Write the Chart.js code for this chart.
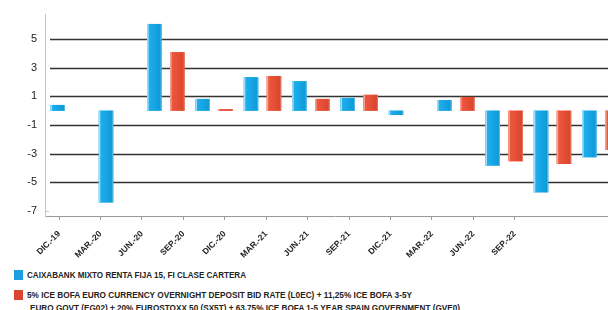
<!DOCTYPE html>
<html>
<head>
<meta charset="utf-8">
<script src="https://cdn.jsdelivr.net/npm/chart.js@4.4.1/dist/chart.umd.min.js"></script>
<style>
  html, body { margin: 0; padding: 0; background: #fff; width: 608px; height: 310px; overflow: hidden; position: relative; }
  #wrap { position: absolute; left: 0; top: 0; width: 625px; height: 262px; }
  .sq { position: absolute; width: 9px; height: 10px; }
  .lt { position: absolute; white-space: nowrap; font-family: "Liberation Sans", Arial, sans-serif; font-weight: bold; font-size: 9px; color: #222; line-height: 10px; transform-origin: 0 50%; }
</style>
</head>
<body>
<div id="wrap"><canvas id="c" width="625" height="262" style="width:625px;height:262px"></canvas></div>
<div class="sq" style="left:14px;top:270px;background:#1b9fe0"></div>
<div class="lt" id="l1" style="left:27px;top:270px" data-w="219"></div>
<div class="sq" style="left:14px;top:290px;background:#d9452f"></div>
<div class="lt" id="l2a" style="left:27px;top:290px" data-w="385"></div>
<div class="lt" id="l2b" style="left:30px;top:303px" data-w="430"></div>
<script>
// ---- data ----
const categories = ['DIC.-19','MAR.-20','JUN.-20','SEP.-20','DIC.-20','MAR.-21','JUN.-21','SEP.-21','DIC.-21','MAR.-22','JUN.-22','SEP.-22'];
const fundValues = [0.4, -6.4, 6.05, 0.82, 2.33, 2.05, 0.89, -0.3, 0.73, -3.83, -5.7, -3.25];
const benchValues = [null, null, 4.08, 0.1, 2.42, 0.82, 1.1, null, 0.96, -3.53, -3.72, -2.74];
const yTickValues = [5, 3, 1, -1, -3, -5, -7];
const fundName = 'CAIXABANK MIXTO RENTA FIJA 15, FI CLASE CARTERA';
const benchLine1 = '5% ICE BOFA EURO CURRENCY OVERNIGHT DEPOSIT BID RATE (L0EC) + 11,25% ICE BOFA 3-5Y';
const benchLine2 = 'EURO GOVT (EG02) + 20% EUROSTOXX 50 (SX5T) + 63,75% ICE BOFA 1-5 YEAR SPAIN GOVERNMENT (GVE0)';

// ---- legend (HTML text) ----
document.getElementById('l1').textContent = fundName;
document.getElementById('l2a').textContent = benchLine1;
document.getElementById('l2b').textContent = benchLine2;
document.querySelectorAll('.lt').forEach(el => {
  const target = parseFloat(el.dataset.w);
  const w = el.getBoundingClientRect().width;
  if (w > 0) el.style.transform = 'scaleX(' + (target / w) + ')';
});

const palettes = [
  { stripe: '#a6e0fa', a: '#22b2ef', b: '#0c98d6' },
  { stripe: '#f3a596', a: '#ef5a40', b: '#d9432c' }
];

const decor = {
  id: 'decor',
  beforeDatasetsDraw(chart) {
    const ctx = chart.ctx, y = chart.scales.y, area = chart.chartArea;
    ctx.save();
    ctx.strokeStyle = '#333';
    ctx.lineWidth = 1.5;
    yTickValues.forEach(v => {
      if (v === -7) return;
      const py = Math.round(y.getPixelForValue(v)) + 0.5;
      ctx.beginPath(); ctx.moveTo(area.left + 5, py); ctx.lineTo(area.right, py); ctx.stroke();
    });
    const p7 = Math.round(y.getPixelForValue(-7)) + 0.5;
    ctx.strokeStyle = '#c4c4c4'; ctx.lineWidth = 1;
    ctx.beginPath(); ctx.moveTo(area.left, p7); ctx.lineTo(area.left + 4, p7); ctx.stroke();
    ctx.restore();
  },
  afterDatasetsDraw(chart) {
    const ctx = chart.ctx, area = chart.chartArea;
    ctx.save();
    ctx.beginPath(); ctx.rect(area.left, area.top, area.right - area.left, area.bottom - area.top); ctx.clip();
    chart.data.datasets.forEach((ds, i) => {
      const meta = chart.getDatasetMeta(i), pal = palettes[i];
      meta.data.forEach((el, j) => {
        if (ds.data[j] === null) return;
        const p = el.getProps(['x', 'y', 'base', 'width'], true);
        const left = p.x - p.width / 2, top = Math.min(p.y, p.base), h = Math.max(Math.abs(p.base - p.y), 1);
        const g = ctx.createLinearGradient(left, 0, left + p.width, 0);
        g.addColorStop(0, pal.a); g.addColorStop(1, pal.b);
        ctx.fillStyle = g;
        ctx.fillRect(left, top, p.width, h);
        ctx.fillStyle = pal.stripe;
        ctx.fillRect(left, top, 1.5, h);
        ctx.globalAlpha = 0.5;
        ctx.fillRect(left + p.width - 1, top, 1, h);
        ctx.globalAlpha = 1;
      });
    });
    ctx.restore();
  }
};

new Chart(document.getElementById('c'), {
  type: 'bar',
  data: {
    labels: categories,
    datasets: [
      { label: fundName, data: fundValues, backgroundColor: '#1aa7e4', barPercentage: 0.63, categoryPercentage: 0.95 },
      { label: benchLine1 + ' ' + benchLine2, data: benchValues, backgroundColor: '#e4533a', barPercentage: 0.63, categoryPercentage: 0.95 }
    ]
  },
  options: {
    responsive: false,
    animation: false,
    devicePixelRatio: 1,
    layout: { padding: { top: 14, left: 0, right: 0, bottom: 0 } },
    plugins: { legend: { display: false }, tooltip: { enabled: false } },
    scales: {
      x: { display: false },
      xl: {
        type: 'linear', position: 'bottom', min: 0, max: 14, offset: false,
        afterBuildTicks(s) { s.ticks = categories.map((c, i) => ({ value: i + 0.34 })); },
        afterFit(s) { s.height = 46; },
        ticks: {
          autoSkip: false, maxRotation: 45, minRotation: 45, padding: 9,
          color: '#222', font: { family: 'Liberation Sans, Arial, sans-serif', size: 8.5, weight: 'bold' },
          callback: (v, i) => categories[i]
        },
        grid: { display: true, offset: false, drawOnChartArea: false, drawTicks: true, tickLength: 4, color: '#9a9a9a' },
        border: { display: true, color: '#9a9a9a', width: 1 }
      },
      y: {
        min: -7.35, max: 6.7,
        afterBuildTicks(s) { s.ticks = yTickValues.map(v => ({ value: v })); },
        afterFit(s) { s.width = 45; },
        ticks: { color: '#222', padding: 8, font: { family: 'Liberation Sans, Arial, sans-serif', size: 11 } },
        grid: { display: false, drawTicks: false },
        border: { display: true, color: '#c4c4c4', width: 1 }
      }
    }
  },
  plugins: [decor]
});
</script>
</body>
</html>
